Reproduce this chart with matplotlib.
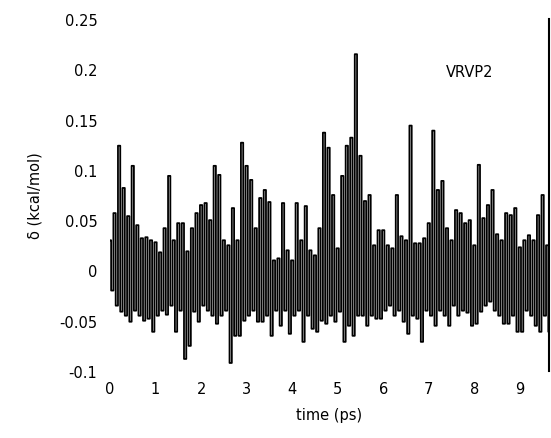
import numpy as np
import matplotlib
matplotlib.use("Agg")
import matplotlib.pyplot as plt

# upper / lower excursion per 0.1 ps column (kcal/mol)
upper = [0.030, 0.057, 0.124, 0.082, 0.054, 0.104, 0.045, 0.032, 0.033, 0.030,
         0.028, 0.018, 0.042, 0.094, 0.030, 0.047, 0.047, 0.019, 0.042, 0.057,
         0.065, 0.067, 0.050, 0.104, 0.095, 0.030, 0.025, 0.062, 0.030, 0.127,
         0.104, 0.090, 0.042, 0.072, 0.080, 0.068, 0.010, 0.012, 0.067, 0.020,
         0.010, 0.067, 0.030, 0.064, 0.020, 0.015, 0.042, 0.137, 0.122, 0.075,
         0.022, 0.094, 0.124, 0.132, 0.215, 0.114, 0.069, 0.075, 0.025, 0.040,
         0.040, 0.025, 0.022, 0.075, 0.034, 0.030, 0.144, 0.027, 0.027, 0.032,
         0.047, 0.139, 0.080, 0.089, 0.042, 0.030, 0.060, 0.057, 0.047, 0.050,
         0.025, 0.105, 0.052, 0.065, 0.080, 0.036, 0.030, 0.057, 0.055, 0.062,
         0.023, 0.030, 0.035, 0.030, 0.055, 0.075, 0.025]
lower = [-0.020, -0.035, -0.041, -0.045, -0.051, -0.040, -0.045, -0.050, -0.048, -0.061,
         -0.045, -0.040, -0.044, -0.035, -0.061, -0.040, -0.088, -0.075, -0.041, -0.051,
         -0.035, -0.040, -0.045, -0.053, -0.045, -0.040, -0.092, -0.065, -0.065, -0.050,
         -0.045, -0.040, -0.051, -0.051, -0.045, -0.065, -0.040, -0.055, -0.040, -0.063,
         -0.045, -0.040, -0.071, -0.045, -0.058, -0.061, -0.050, -0.053, -0.045, -0.051,
         -0.041, -0.071, -0.055, -0.065, -0.045, -0.045, -0.055, -0.045, -0.048, -0.048,
         -0.040, -0.035, -0.045, -0.040, -0.051, -0.063, -0.045, -0.048, -0.071, -0.040,
         -0.045, -0.055, -0.040, -0.045, -0.055, -0.035, -0.045, -0.040, -0.042, -0.055,
         -0.053, -0.041, -0.035, -0.031, -0.040, -0.045, -0.053, -0.053, -0.045, -0.061,
         -0.061, -0.040, -0.045, -0.055, -0.061, -0.045, -0.061]
step = 0.1  # ps per column

# interleave high and low samples
n = len(upper)
t = np.empty(2 * n)
y = np.empty(2 * n)
t[0::2] = np.arange(n) * step
t[1::2] = np.arange(n) * step + step / 2
y[0::2] = upper
y[1::2] = lower

fig = plt.figure(figsize=(5.51, 4.39), dpi=100)
ax = fig.add_axes([110 / 551, 67 / 439, 439 / 551, 352 / 439])
ax.plot(t, y, color='black', lw=1.3, drawstyle='steps-mid', snap=False)

ax.set_xlim(0, 9.64)
ax.set_ylim(-0.1, 0.25)
ax.set_xticks(range(10))
ax.set_xticks([1, 3, 5, 7, 9], minor=True)
ax.set_yticks([-0.1, -0.05, 0, 0.05, 0.1, 0.15, 0.2, 0.25])
ax.set_yticklabels(['-0.1', '-0.05', '0', '0.05', '0.1', '0.15', '0.2', '0.25'])
ax.tick_params(axis='x', which='major', length=0, pad=7, labelsize=10.5)
ax.tick_params(axis='x', which='minor', direction='in', length=3, width=1.5,
               top=True, bottom=True)
ax.tick_params(axis='y', length=0, pad=9, labelsize=10.5)

for side in ['left', 'top', 'bottom']:
    ax.spines[side].set_visible(False)
ax.spines['right'].set_linewidth(1.5)

ax.set_xlabel('time (ps)', fontsize=10.5, labelpad=8)
ax.set_ylabel('δ (kcal/mol)', fontsize=10.5, labelpad=12)
ax.text(0.82, 0.85, 'VRVP2', transform=ax.transAxes, ha='center', va='center',
        fontsize=10.5)

fig.savefig('out.png', dpi=100)
